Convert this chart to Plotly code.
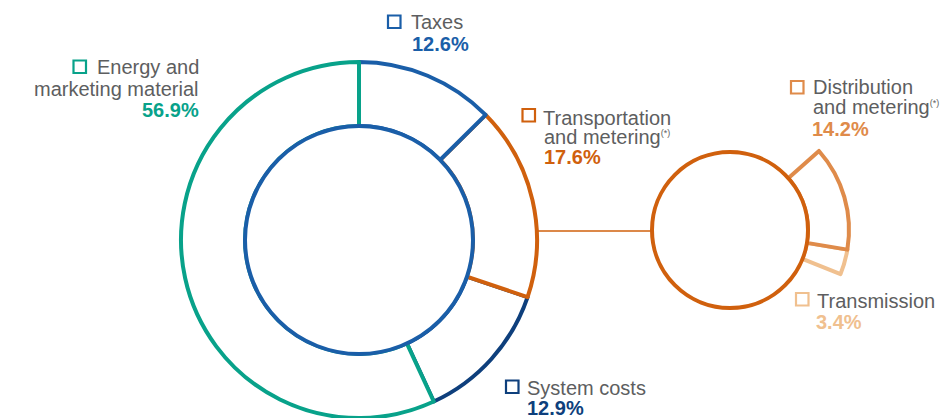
import plotly.graph_objects as go

# main breakdown (share of total, %)
labels = ["Taxes", "Transportation and metering", "System costs", "Energy and marketing material"]
shares = [12.6, 17.6, 12.9, 56.9]
colors = ["#1a5ea8", "#d0600d", "#0e3f7c", "#08a28a"]

# breakdown of transportation and metering
sub_labels = ["Distribution and metering", "Transmission"]
sub_shares = [14.2, 3.4]
sub_colors = ["#df8b4a", "#f0c08f"]

W, H = 945, 418
GREY = "#5d5e60"
FONT = "Liberation Sans, Arial, sans-serif"


def px(x):
    return x / W


def py(y):
    return 1 - y / H


def dom(cx, cy, r):
    return dict(x=[px(cx - r), px(cx + r)], y=[py(cy + r), py(cy - r)])


fig = go.Figure()

# big donut; drawing order sets which colour wins on the shared radial edges
order = [2, 1, 0, 3]
fig.add_trace(go.Pie(
    values=[shares[i] for i in order],
    labels=[labels[i] for i in order],
    sort=False, direction="counterclockwise",
    rotation=360 * (shares[0] + shares[1]) / sum(shares),
    hole=0.64, domain=dom(359, 240, 178),
    marker=dict(colors=["white"] * 4, line=dict(color=[colors[i] for i in order], width=4)),
    textinfo="none", hoverinfo="skip", showlegend=False,
))
# inner blue ring
fig.add_trace(go.Pie(
    values=[sum(shares)], labels=["total"], sort=False,
    domain=dom(359, 240, 114),
    marker=dict(colors=["white"], line=dict(color=colors[0], width=4)),
    textinfo="none", hoverinfo="skip", showlegend=False,
))

# small breakdown sector
rest = sum(shares) - sum(sub_shares)
fig.add_trace(go.Pie(
    values=[sub_shares[1], sub_shares[0], rest],
    labels=[sub_labels[1], sub_labels[0], "rest"],
    sort=False, direction="counterclockwise", rotation=99.5,
    hole=0.655, domain=dom(730, 230, 119),
    marker=dict(colors=["white", "white", "rgba(0,0,0,0)"],
                line=dict(color=[sub_colors[1], sub_colors[0], "rgba(0,0,0,0)"], width=4)),
    textinfo="none", hoverinfo="skip", showlegend=False,
))
# orange circle for transportation
fig.add_trace(go.Pie(
    values=[shares[1]], labels=[labels[1]], sort=False,
    domain=dom(730, 230, 78),
    marker=dict(colors=["white"], line=dict(color=colors[1], width=4)),
    textinfo="none", hoverinfo="skip", showlegend=False,
))

# connector
fig.add_shape(type="line", xref="paper", yref="paper",
              x0=px(538), x1=px(652), y0=py(231), y1=py(231),
              line=dict(color=colors[1], width=1.5), layer="below")


def square(x, y, color):
    fig.add_shape(type="rect", xref="paper", yref="paper",
                  x0=px(x), x1=px(x + 12.5), y0=py(y + 12.5), y1=py(y),
                  line=dict(color=color, width=2.2), fillcolor="white")


def text(x, y, s, color=GREY, bold=False, anchor="left"):
    fig.add_annotation(x=px(x), y=py(y), xref="paper", yref="paper", text=s,
                       showarrow=False, xanchor=anchor, yanchor="middle", borderpad=0,
                       font=dict(family=FONT, size=20, color=color,
                                 weight="bold" if bold else "normal"))


star = '<sup><span style="font-size:9px">(*)</span></sup>'


def pct(v):
    return f"{v:.1f}%"


# Taxes
square(388, 15.5, colors[0])
text(410, 22, "Taxes")
text(411, 44, pct(shares[0]), colors[0], True)
# Transportation
square(522.5, 109, colors[1])
text(542, 117.5, "Transportation")
text(543, 137, "and metering" + star)
text(543, 157, pct(shares[1]), colors[1], True)
# System costs
square(506, 380.5, colors[2])
text(526, 387.5, "System costs")
text(526, 408, pct(shares[2]), colors[2], True)
# Energy
square(73.5, 60.5, colors[3])
text(200, 67, "Energy and", anchor="right")
text(200, 88.5, "marketing material", anchor="right")
text(200, 109.5, pct(shares[3]), colors[3], True, anchor="right")
# Distribution
square(791, 81, sub_colors[0])
text(812, 87.5, "Distribution")
text(812, 107, "and metering" + star)
text(811, 129, pct(sub_shares[0]), sub_colors[0], True)
# Transmission
square(796, 293, sub_colors[1])
text(816, 300.5, "Transmission")
text(815, 321.5, pct(sub_shares[1]), sub_colors[1], True)

fig.update_layout(width=W, height=H, margin=dict(l=0, r=0, t=0, b=0),
                  paper_bgcolor="white", plot_bgcolor="white", showlegend=False)
fig.write_html("out.html", config={"displayModeBar": False},
               post_script="document.body.style.margin='0';")
